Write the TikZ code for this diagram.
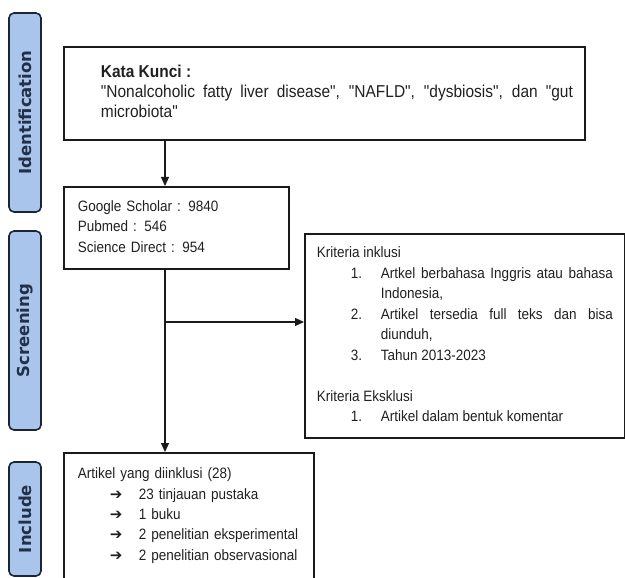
\documentclass[tikz,border=0pt]{standalone}
\usepackage{fontspec}
\setmainfont{Liberation Sans}[FakeStretch=0.9, Ligatures=TeXOff]
\newfontfamily\dejavu{DejaVu Sans}
\usepackage{xcolor}
\usepackage{tikz}
\usetikzlibrary{arrows.meta}
\definecolor{stagefill}{HTML}{A9C5EC}
\definecolor{stageline}{HTML}{1C2533}
\definecolor{stagetext}{HTML}{22304A}
\definecolor{boxline}{HTML}{1A1A1A}
\definecolor{ink}{HTML}{202020}
\tolerance=9999
\hbadness=10000
\hyphenpenalty=10000

\begin{document}
\begin{tikzpicture}[
  x=1pt, y=-1pt,
  stage/.style={
    rectangle,
    rounded corners=5pt,
    draw=stageline,
    fill=stagefill,
    line width=1.6pt,
    rotate=90,
    inner sep=0pt,
    minimum height=32pt,
    text=stagetext,
    font=\dejavu\bfseries\fontsize{16.5}{18}\selectfont
  },
  box/.style={
    rectangle,
    draw=boxline,
    line width=1.8pt,
    anchor=north west,
    text=ink,
    font=\fontsize{15}{20.3}\selectfont
  },
  arrow/.style={-{Triangle[width=8pt,length=9pt]}, line width=1.3pt, draw=boxline}
]
\clip (0,0) rectangle (625,578);

\node[stage, minimum width=199pt] (ident) at (25,112.5) {Identification};
\node[stage, minimum width=199pt] (screen) at (25,330.5) {Screening};
\node[stage, minimum width=114pt] (incl) at (25,519) {Include};

\node[box, minimum width=521pt, minimum height=93pt, inner sep=0pt,
  font=\fontsize{17.2}{20}\selectfont] (kunci) at (63,46)
  {\hspace*{25pt}\parbox[c]{472pt}{\strut\textbf{Kata Kunci :}\\"Nonalcoholic fatty liver disease", "NAFLD", "dysbiosis", dan "gut microbiota"\strut}};
\node[box, text width=197pt, inner xsep=14pt, minimum height=82pt, align=left] (sumber) at (63,186)
  {\strut Google Scholar : 9840\\Pubmed : 546\\Science Direct : 954\strut};
\node[box, text width=296pt, inner xsep=12pt, minimum height=204pt, align=justify,
  font=\fontsize{15}{20.5}\selectfont] (kriteria) at (304,233) {%
  \strut Kriteria inklusi\par
  {\leftskip=64pt \parindent=-30pt
  \makebox[30pt][l]{1.}Artkel berbahasa Inggris atau bahasa Indonesia,\par
  \makebox[30pt][l]{2.}Artikel tersedia full teks dan bisa diunduh,\par
  \makebox[30pt][l]{3.}Tahun 2013-2023\par}
  \strut\par
  Kriteria Eksklusi\par
  {\leftskip=64pt \parindent=-30pt
  \makebox[30pt][l]{1.}Artikel dalam bentuk komentar\strut\par}};
\node[box, text width=222pt, inner xsep=14pt, inner ysep=11.8pt, align=left] (hasil) at (63,452)
  {\strut Artikel yang diinklusi (28)\\
  \hspace*{32pt}\makebox[29pt][l]{\dejavu\fontsize{15}{15}\selectfont ➔}23 tinjauan pustaka\\
  \hspace*{32pt}\makebox[29pt][l]{\dejavu\fontsize{15}{15}\selectfont ➔}1 buku\\
  \hspace*{32pt}\makebox[29pt][l]{\dejavu\fontsize{15}{15}\selectfont ➔}2 penelitian eksperimental\\
  \hspace*{32pt}\makebox[29pt][l]{\dejavu\fontsize{15}{15}\selectfont ➔}2 penelitian observasional\rule[-40pt]{0pt}{40pt}};

\coordinate (cabang) at (165,322);

\draw[arrow] ([xshift=102pt]kunci.south west) -- ([xshift=102pt]sumber.north west);
\draw[arrow] ([xshift=102pt]sumber.south west) -- ([xshift=102pt]hasil.north west);
\draw[arrow] (cabang) -- (cabang -| kriteria.west);
\end{tikzpicture}
\end{document}
